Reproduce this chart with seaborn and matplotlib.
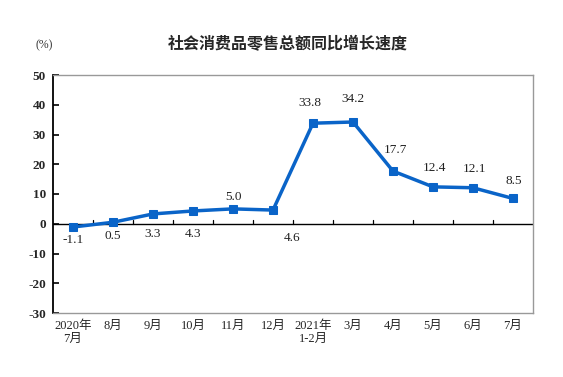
import matplotlib
matplotlib.use("Agg")
import matplotlib.pyplot as plt
import numpy as np
import pandas as pd
import seaborn as sns

months = ["2020年\n7月", "8月", "9月", "10月", "11月", "12月",
          "2021年\n1-2月", "3月", "4月", "5月", "6月", "7月"]
growth = [-1.1, 0.5, 3.3, 4.3, 5.0, 4.6, 33.8, 34.2, 17.7, 12.4, 12.1, 8.5]
y_ticks = [-30, -20, -10, 0, 10, 20, 30, 40, 50]

# label offsets in pixels (dx, dy), positive dy = up
label_offsets = [(0, -13), (0, -14), (0, -20), (0, -23), (0, 12), (19, -28),
                 (-3, 20), (0, 23), (2, 21), (1, 19), (2, 19), (1, 17)]

df = pd.DataFrame({"month": months, "growth": growth, "pos": np.arange(len(months))})

sns.set_theme(style="white")
FONTS = ["Liberation Serif", "Noto Sans CJK SC"]
plt.rcParams["font.family"] = FONTS

fig = plt.figure(figsize=(5.63, 3.77), dpi=100)
ax = fig.add_axes([53 / 563, 64 / 377, 480 / 563, 238 / 377])

blue = "#0a64c8"
sns.lineplot(data=df, x="pos", y="growth", ax=ax, color=blue, linewidth=2.5,
             marker="s", markersize=5.5, markeredgecolor=blue)

ax.axhline(0, color="black", linewidth=1.0, zorder=1)
# small boundary ticks on the zero line
for b in np.arange(len(months) - 1) + 0.5:
    ax.plot([b, b], [0, 1.3], color="black", linewidth=0.9, zorder=1)

for (i, v), (dx, dy) in zip(enumerate(growth), label_offsets):
    ax.annotate(f"{v:.1f}", (i, v), xytext=(dx, dy), textcoords="offset pixels",
                ha="center", va="center", fontsize=9.5, color="#222222")

ax.set_xlim(-0.5, len(months) - 0.5)
ax.set_ylim(-30, 50)
ax.set_yticks(y_ticks)
ax.set_yticklabels([str(t) for t in y_ticks], fontsize=9.5, fontweight="bold")
ax.set_xticks(df["pos"])
ax.set_xticklabels(months, fontsize=9, linespacing=1.1)
ax.tick_params(axis="y", direction="in", length=4, width=1.2, color="black", pad=5, left=True)
ax.tick_params(axis="x", length=0, pad=5)
ax.set_xlabel("")
ax.set_ylabel("")

for side in ["top", "right", "bottom"]:
    ax.spines[side].set_color("#999999")
    ax.spines[side].set_linewidth(1.0)
ax.spines["left"].set_color("black")
ax.spines["left"].set_linewidth(1.3)

fig.text(288 / 563, 1 - 44 / 377, "社会消费品零售总额同比增长速度", ha="center", va="center",
         fontsize=11.5, fontweight="bold", family=["Noto Sans CJK SC", "DejaVu Sans"])
fig.text(44 / 563, 1 - 45 / 377, "(%)", ha="center", va="center", fontsize=8.5, color="#333333")

fig.savefig("out.png", dpi=100)
plt.close(fig)
